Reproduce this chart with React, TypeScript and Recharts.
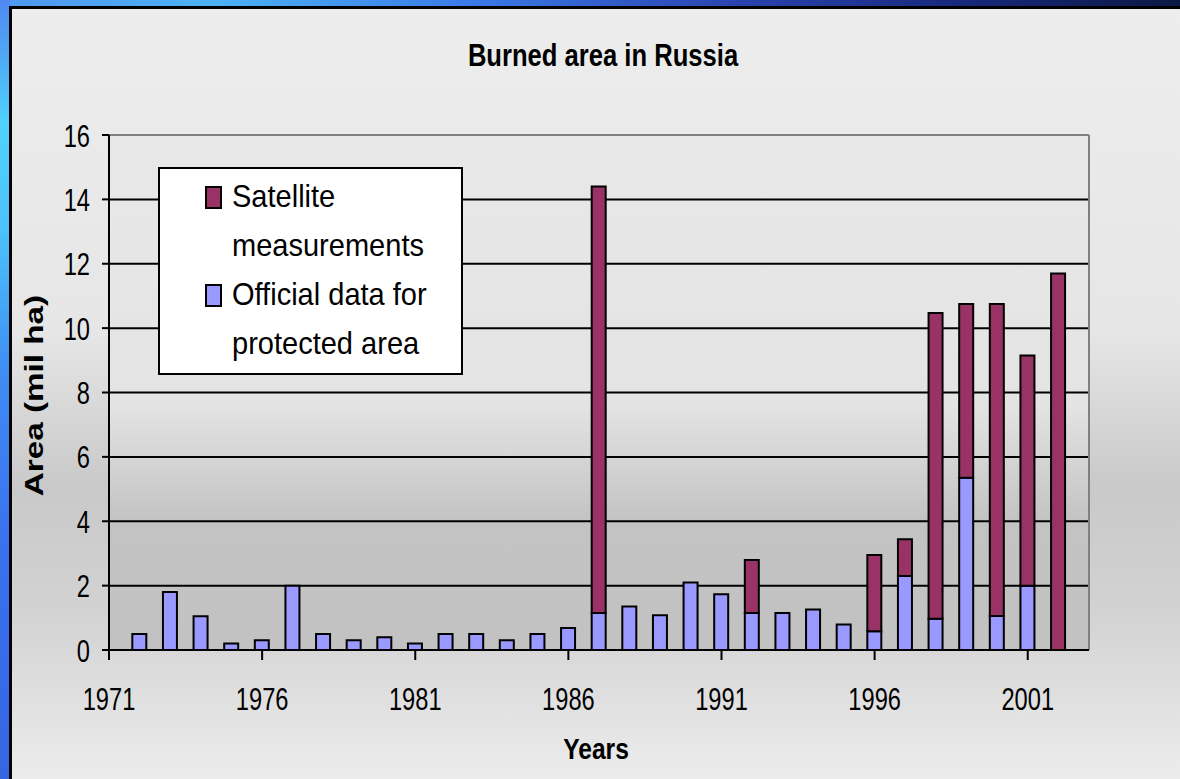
import { BarChart, Bar, XAxis, YAxis, CartesianGrid, Legend, ReferenceLine } from "recharts";

const years = [
  1972, 1973, 1974, 1975, 1976, 1977, 1978, 1979, 1980, 1981, 1982,
  1983, 1984, 1985, 1986, 1987, 1988, 1989, 1990, 1991, 1992, 1993,
  1994, 1995, 1996, 1997, 1998, 1999, 2000, 2001, 2002,
];

// mil ha, official statistics for the protected forest zone
const official = [
  0.5, 1.8, 1.05, 0.2, 0.3, 2.0, 0.5, 0.3, 0.4, 0.2, 0.5,
  0.5, 0.3, 0.5, 0.68, 1.15, 1.35, 1.08, 2.1, 1.73, 1.15, 1.15,
  1.26, 0.79, 0.58, 2.3, 0.97, 5.35, 1.06, 2.0, null,
];

// mil ha, extra area seen from satellites (stacked on top of official)
const satellite = [
  null, null, null, null, null, null, null, null, null, null, null,
  null, null, null, null, 13.25, null, null, null, null, 1.65, null,
  null, null, 2.37, 1.14, 9.5, 5.4, 9.69, 7.15, 11.7,
];

const yearTicks = [1971, 1976, 1981, 1986, 1991, 1996, 2001];
const areaTicks = [0, 2, 4, 6, 8, 10, 12, 14, 16];
const gridValues = [2, 4, 6, 8, 10, 12, 14];

const data = years.map((year, i) => ({
  year,
  official: official[i],
  satellite: satellite[i],
}));

const FONT = '"Liberation Sans", Arial, sans-serif';

function Squeezed({ x, y, scale, size, bold = false, anchor = "middle", rotate = 0, children }: any) {
  return (
    <text
      transform={`translate(${x},${y}) rotate(${rotate}) scale(${scale},1)`}
      fontSize={size}
      fontWeight={bold ? 700 : 400}
      fontFamily={FONT}
      textAnchor={anchor}
      fill="#000"
    >
      {children}
    </text>
  );
}

const XTick = ({ x, y, payload }: any) => (
  <Squeezed x={x} y={y + 50} scale={0.74} size={32}>
    {payload.value}
  </Squeezed>
);

const YTick = ({ x, y, payload }: any) => (
  <Squeezed x={x - 12} y={y + 11.5} scale={0.74} size={32} anchor="end">
    {payload.value}
  </Squeezed>
);

function LegendBox({ payload }: any) {
  const items = [...(payload ?? [])].reverse();
  return (
    <div
      style={{
        width: 305,
        height: 208,
        boxSizing: "border-box",
        background: "#fff",
        border: "2px solid #000",
        padding: "3px 0 0 72px",
        fontFamily: FONT,
        color: "#000",
      }}
    >
      {items.map((item: any) => (
        <div key={item.value} style={{ position: "relative" }}>
          <span
            style={{
              position: "absolute",
              left: -27,
              top: 14,
              width: 17,
              height: 23,
              boxSizing: "border-box",
              background: item.color,
              border: "2px solid #000",
            }}
          />
          <div
            style={{
              width: 225,
              fontSize: 32,
              lineHeight: "49px",
              transform: "scaleX(0.907)",
              transformOrigin: "left",
            }}
          >
            {item.value}
          </div>
        </div>
      ))}
    </div>
  );
}

export default function App() {
  return (
    <div
      style={{
        position: "absolute",
        left: 0,
        top: 0,
        width: 1180,
        height: 779,
        overflow: "hidden",
        background:
          "linear-gradient(to right, #4f96f2 0%, #4cb2f8 18%, #3a7ae6 40%, #2a44b0 62%, #17287a 82%, #0b1844 100%)",
      }}
    >
      <div
        style={{
          position: "absolute",
          left: 0,
          top: 0,
          width: 10,
          height: 779,
          background:
            "linear-gradient(to bottom, #4f88f0 0%, #50d2fc 16%, #4cc0fa 30%, #3f8cf2 48%, #3a70ee 70%, #3566e2 100%)",
        }}
      />
      <div
        style={{
          position: "absolute",
          left: 9,
          top: 6,
          right: 0,
          bottom: 0,
          borderLeft: "3px solid #000",
          borderTop: "3px solid #000",
          background:
            "linear-gradient(to bottom, #ededed 0%, #e6e6e6 42%, #c9c9c9 62%, #d2d2d2 78%, #ececec 100%)",
        }}
      />
      <div style={{ position: "absolute", left: 0, top: 0 }}>
        <BarChart
          width={1180}
          height={779}
          data={data}
          margin={{ top: 135, right: 91, bottom: 69, left: 49 }}
        >
          <defs>
            <linearGradient id="plotFill" x1="0" y1="0" x2="0" y2="1">
              <stop offset="0%" stopColor="#e8e8e8" />
              <stop offset="52%" stopColor="#e4e4e4" />
              <stop offset="75%" stopColor="#c3c3c3" />
              <stop offset="100%" stopColor="#c2c2c2" />
            </linearGradient>
          </defs>
          <Squeezed x={603} y={66} scale={0.8} size={32} bold>
            Burned area in Russia
          </Squeezed>
          <CartesianGrid
            vertical={false}
            horizontalValues={gridValues}
            stroke="#000"
            strokeWidth={2}
            fill="url(#plotFill)"
          />
          <XAxis
            dataKey="year"
            type="number"
            domain={[1971, 2003]}
            ticks={yearTicks}
            interval={0}
            allowDataOverflow
            height={60}
            tickSize={10}
            tickMargin={0}
            tick={<XTick />}
            axisLine={{ stroke: "#000", strokeWidth: 2 }}
            tickLine={{ stroke: "#000", strokeWidth: 2 }}
            label={{
              content: ({ viewBox }: any) => (
                <Squeezed
                  x={viewBox.x + viewBox.width / 2 - 3}
                  y={viewBox.y + 109}
                  scale={0.82}
                  size={30}
                  bold
                >
                  Years
                </Squeezed>
              ),
            }}
          />
          <YAxis
            type="number"
            domain={[0, 16]}
            ticks={areaTicks}
            interval={0}
            width={60}
            tickSize={7}
            tickMargin={0}
            tick={<YTick />}
            axisLine={{ stroke: "#000", strokeWidth: 2 }}
            tickLine={{ stroke: "#000", strokeWidth: 2 }}
            label={{
              content: ({ viewBox }: any) => (
                <Squeezed
                  x={viewBox.x - 6}
                  y={viewBox.y + viewBox.height / 2 + 3}
                  rotate={-90}
                  scale={1.33}
                  size={25}
                  bold
                >
                  Area (mil ha)
                </Squeezed>
              ),
            }}
          />
          <ReferenceLine y={16} stroke="#808080" strokeWidth={2} />
          <ReferenceLine x={2003} stroke="#808080" strokeWidth={2} />
          <Legend
            layout="vertical"
            align="center"
            verticalAlign="middle"
            wrapperStyle={{ left: 158, top: 167, width: 305, height: 208 }}
            content={<LegendBox />}
          />
          <Bar
            dataKey="official"
            name="Official data for protected area"
            stackId="area"
            fill="#9999ff"
            stroke="#000"
            strokeWidth={2}
            barSize={14}
            isAnimationActive={false}
          />
          <Bar
            dataKey="satellite"
            name="Satellite measurements"
            stackId="area"
            fill="#993366"
            stroke="#000"
            strokeWidth={2}
            barSize={14}
            isAnimationActive={false}
          />
        </BarChart>
      </div>
    </div>
  );
}
